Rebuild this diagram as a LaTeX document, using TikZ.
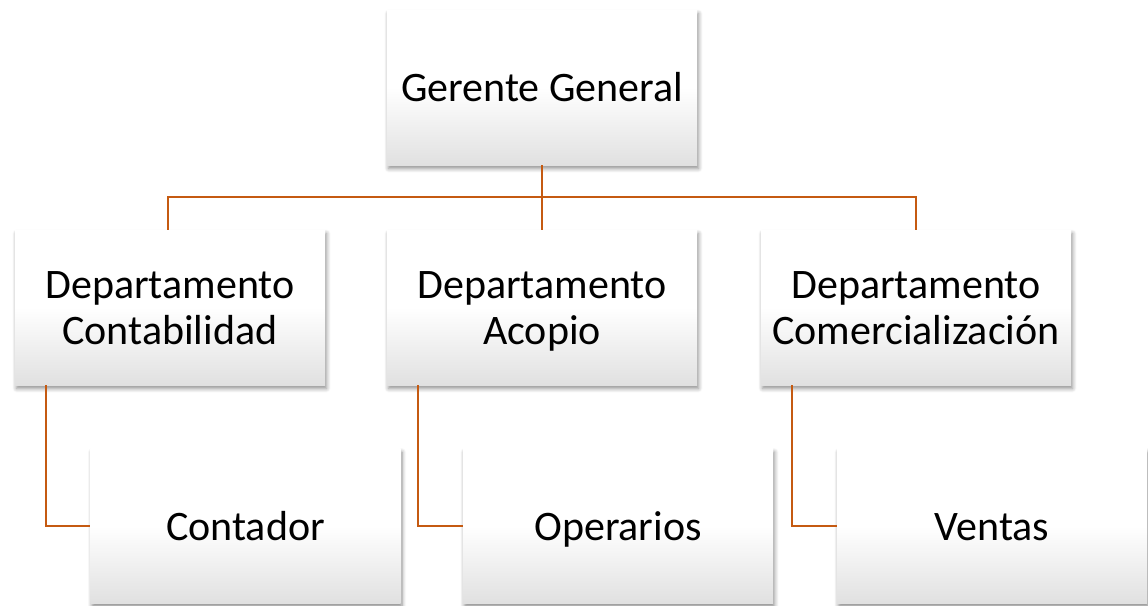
\documentclass[tikz,border=0pt]{standalone}
\usepackage{fontspec}
\setmainfont{Carlito}
\usetikzlibrary{shadows.blur}
\definecolor{myOrange}{RGB}{197, 90, 17}
\newcommand\cardtop{\rule{0pt}{40pt}}
\newcommand\cardbot{\rule[-12pt]{0pt}{12pt}}

\begin{document}
\begin{tikzpicture}[x=1pt, y=-1pt,
    card/.style={minimum width=310pt, minimum height=155pt, align=center,
      top color=white, bottom color=black!12, middle color=white,
      blur shadow={shadow xshift=1.5pt, shadow yshift=-3.5pt, shadow blur steps=6, shadow blur radius=4pt, shadow opacity=45},
      font=\fontsize{42}{46}\selectfont, inner sep=0pt},
    link/.style={myOrange, line width=2.5pt}]
  \useasboundingbox (0,0) rectangle (1148,605);
  \coordinate (bar) at (542,197);
  \node[card] (gg) at (542,87.5) {\cardtop Gerente General\cardbot};
  \node[card] (dc) at (170,307.5) {\cardtop Departamento\\Contabilidad\cardbot};
  \node[card] (da) at (542,307.5) {\cardtop Departamento\\Acopio\cardbot};
  \node[card] (dm) at (916,307.5) {\cardtop Departamento\\Comercialización\cardbot};
  \node[card] (co) at (245.5,526) {\cardtop Contador\cardbot};
  \node[card] (op) at (618,526) {\cardtop Operarios\cardbot};
  \node[card] (ve) at (992,526) {\cardtop Ventas\cardbot};
  % connectors
  \draw[link] (gg.south) -- (da.north);
  \draw[link] (bar) -| ([xshift=-2pt]dc.north);
  \draw[link] (bar) -| (dm.north);
  \draw[link] ([xshift=-124pt]dc.south) |- (co.west);
  \draw[link] ([xshift=-124pt]da.south) |- (op.west);
  \draw[link] ([xshift=-124pt]dm.south) |- (ve.west);
\end{tikzpicture}
\end{document}
